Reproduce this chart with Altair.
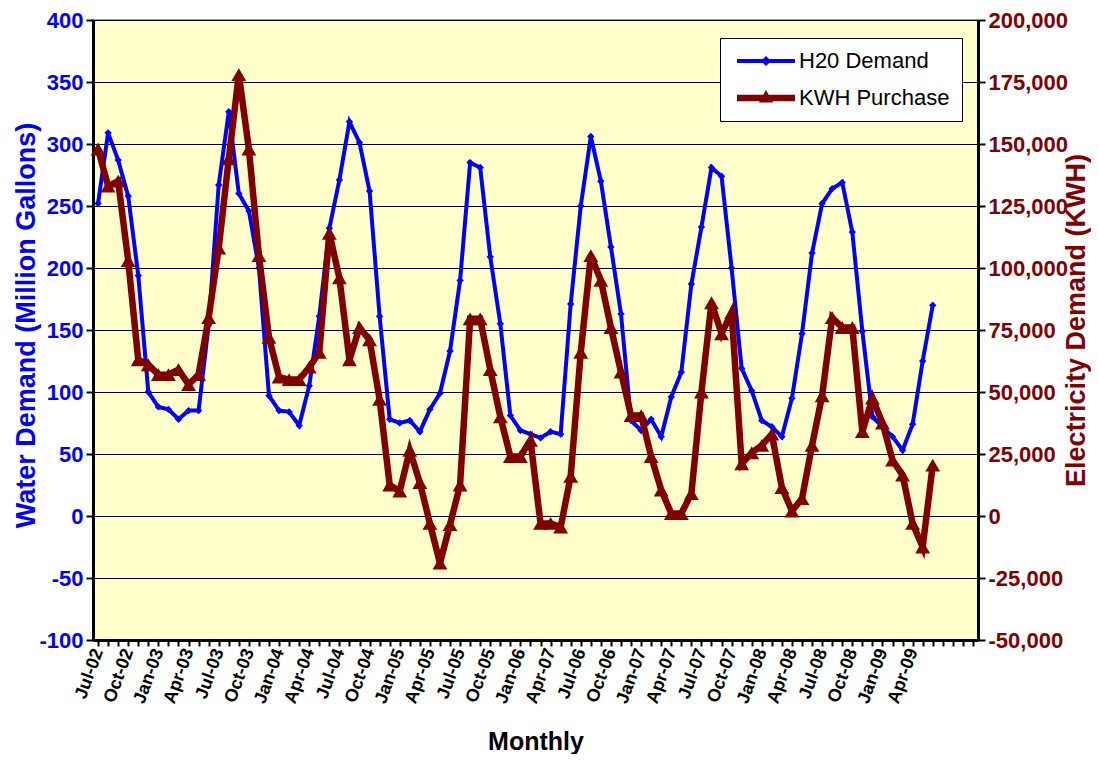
import json
import altair as alt
import pandas as pd

# ---------------- data ----------------
tick_labels = ["Jul-02", "Oct-02", "Jan-03", "Apr-03", "Jul-03", "Oct-03", "Jan-04",
               "Apr-04", "Jul-04", "Oct-04", "Jan-05", "Apr-05", "Jul-05", "Oct-05",
               "Jan-06", "Apr-07", "Jul-06", "Oct-06", "Jan-07", "Apr-07", "Jul-07",
               "Oct-07", "Jan-08", "Apr-08", "Jul-08", "Oct-08", "Jan-09", "Apr-09"]

# monthly, Jul-02 .. Jun-09 (Million Gallons)
water = [252, 309, 287, 258, 194, 100, 88, 86, 78, 85, 85, 154,
         267, 326, 260, 246, 200, 97, 85, 84, 73, 105, 161, 232,
         271, 318, 301, 262, 161, 78, 75, 77, 68, 86, 99, 133,
         190, 285, 281, 209, 155, 81, 69, 66, 63, 68, 66, 171,
         250, 306, 270, 217, 163, 77, 69, 78, 64, 96, 116, 187,
         233, 281, 274, 200, 119, 101, 77, 72, 64, 95, 147, 212,
         252, 264, 269, 229, 149, 80, 72, 64, 53, 74, 125, 170]

# monthly KWH purchase, Jul-02 .. Jun-09
kwh = [148000, 133000, 135000, 103000, 63000, 61000, 57000, 57000, 59000, 53000, 57000, 80000,
       108000, 144000, 178000, 148000, 105000, 72000, 56000, 55000, 55000, 60000, 66000, 114000,
       96000, 63000, 76000, 71000, 47000, 12500, 10000, 26500, 13500, -3000, -19000, -3500,
       12500, 79500, 79500, 59000, 40000, 24000, 24000, 30500, -3000, -3000, -4500, 16000,
       66000, 105000, 95000, 76000, 58000, 40500, 40500, 24000, 10500, 1000, 1000, 9000,
       50000, 86000, 73500, 82000, 21000, 25500, 28500, 33000, 11500, 2000, 7000, 28500,
       48500, 80000, 76000, 76000, 34000, 47500, 37500, 22500, 16500, -3000, -12500, 20500]

series_names = ["H20 Demand", "KWH Purchase"]
n_slots = 88  # category slots on the x axis (Jul-02 .. Oct-09)

BLUE = "#0000FF"
MAROON = "#800000"
FONT = "Liberation Sans"

df = pd.DataFrame({
    "idx": list(range(len(water))),
    "water": water,
    "kwh": kwh,
    "series": series_names[0],
})

label_expr = (
    f"datum.value % 3 == 0 && datum.value <= {3 * (len(tick_labels) - 1)} ? "
    f"{json.dumps(tick_labels)}[datum.value / 3] : ''"
)

x_enc = alt.X(
    "idx:Q",
    scale=alt.Scale(domain=[-0.5, n_slots - 0.5], nice=False, zero=False),
    axis=alt.Axis(
        values=list(range(n_slots)),
        labelExpr=label_expr,
        labelAngle=290,
        labelOverlap=False,
        labelFlush=False,
        labelFont=FONT,
        labelFontSize=18,
        labelFontWeight="bold",
        labelColor="black",
        labelPadding=3,
        tickColor="black",
        tickSize=6,
        tickWidth=2,
        domainColor="black",
        domainWidth=3,
        grid=False,
        title="Monthly",
        titleFont=FONT,
        titleFontSize=25,
        titleFontWeight="bold",
        titleColor="black",
        titleY=101,
        titleBaseline="middle",
    ),
)

y_water = alt.Y(
    "water:Q",
    scale=alt.Scale(domain=[-100, 400], nice=False, zero=False),
    axis=alt.Axis(
        values=list(range(-100, 401, 50)),
        labelExpr="(datum.value < 0 ? '-' : '') + format(abs(datum.value), 'd')",
        labelFont=FONT,
        labelFontSize=22,
        labelFontWeight="bold",
        labelColor=BLUE,
        labelPadding=3,
        tickColor="black",
        tickSize=7,
        tickWidth=2,
        domainColor="black",
        domainWidth=3,
        grid=True,
        gridColor="black",
        gridWidth=1,
        title="Water Demand (Million Gallons)",
        titleFont=FONT,
        titleFontSize=27,
        titleFontWeight="bold",
        titleColor=BLUE,
        titleAngle=270,
        titleX=-67,
        titleY=305,
        titleAlign="center",
        titleBaseline="middle",
    ),
)

y_kwh = alt.Y(
    "kwh:Q",
    scale=alt.Scale(domain=[-50000, 200000], nice=False, zero=False),
    axis=alt.Axis(
        orient="right",
        values=list(range(-50000, 200001, 25000)),
        labelExpr="(datum.value < 0 ? '-' : '') + format(abs(datum.value), ',')",
        labelFont=FONT,
        labelFontSize=22,
        labelFontWeight="bold",
        labelColor=MAROON,
        labelPadding=3,
        tickColor="black",
        tickSize=7,
        tickWidth=2,
        domainColor="black",
        domainWidth=3,
        grid=False,
        title="Electricity Demand (KWH)",
        titleFont=FONT,
        titleFontSize=27,
        titleFontWeight="bold",
        titleColor=MAROON,
        titleAngle=270,
        titleX=98,
        titleY=300,
        titleAlign="center",
        titleBaseline="middle",
    ),
)

base = alt.Chart(df)

# legend symbols: line + marker as custom paths
path_blue = "M-0.6,-0.2L5.2,-0.2L5.2,0.2L-0.6,0.2Z M2.3,-0.5L2.8,0L2.3,0.5L1.8,0Z"
path_maroon = "M-0.6,-0.33L5.2,-0.33L5.2,0.33L-0.6,0.33Z M2.3,-0.8L3.0,0.45L1.6,0.45Z"

leg = alt.Legend(
    title=None,
    orient="none",
    legendX=627,
    legendY=18,
    labelFont=FONT,
    labelFontSize=22,
    labelColor="black",
    labelOffset=45,
    symbolSize=400,
    symbolStrokeWidth=0,
    rowPadding=15,
    padding=12,
    fillColor="white",
    strokeColor="black",
)

blue_line = base.mark_line(color=BLUE, strokeWidth=4).encode(x=x_enc, y=y_water)
blue_pts = base.mark_point(shape="diamond", filled=True, size=55, color=BLUE, opacity=1).encode(
    x=x_enc, y=y_water)
# legend-only layer (no rows survive the filter; the scales carry the legend)
legend_layer = base.transform_filter("datum.idx < 0").mark_point(filled=True, opacity=1).encode(
    x=x_enc,
    y=y_water,
    color=alt.Color("series:N", scale=alt.Scale(domain=series_names, range=[BLUE, MAROON]), legend=leg),
    shape=alt.Shape("series:N", scale=alt.Scale(domain=series_names, range=[path_blue, path_maroon]),
                    legend=leg),
)

maroon_line = base.mark_line(color=MAROON, strokeWidth=6.5).encode(x=x_enc, y=y_kwh)
maroon_pts = base.mark_point(shape="triangle-up", filled=True, size=220, color=MAROON, opacity=1).encode(
    x=x_enc, y=y_kwh)

left = alt.layer(blue_line, blue_pts, legend_layer)
right = alt.layer(maroon_line, maroon_pts)

chart = (
    alt.layer(left, right)
    .resolve_scale(y="independent")
    .properties(
        width=885,
        height=620,
        autosize=alt.AutoSizeParams(type="none"),
        padding={"left": 85, "top": 12, "right": 113, "bottom": 114},
        background="white",
    )
    .configure_view(fill="#FFFFCC", stroke="#808080", strokeWidth=1.5)
    .configure_legend(strokeWidth=1)
)

chart.save("out.html", embed_options={"renderer": "svg", "actions": False})
